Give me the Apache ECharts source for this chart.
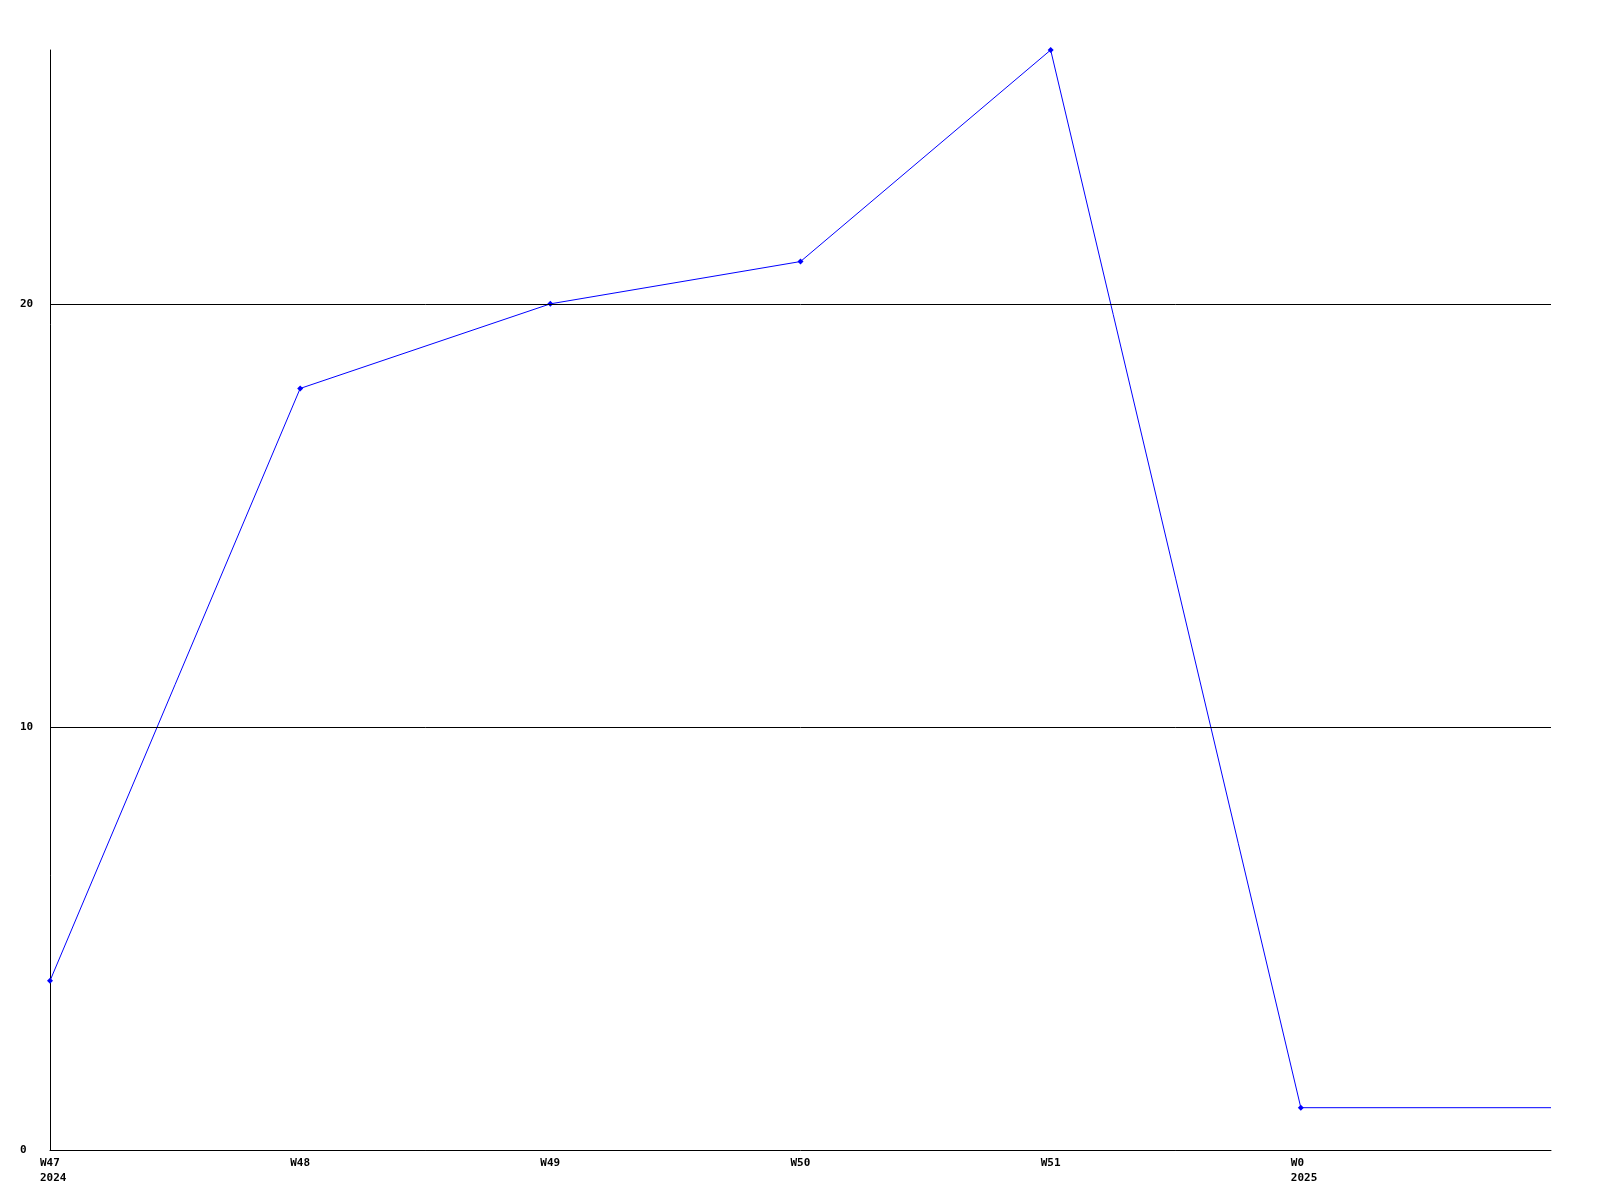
<!DOCTYPE html>
<html>
<head>
<meta charset="utf-8">
<script src="https://cdn.jsdelivr.net/npm/echarts@6/dist/echarts.min.js"></script>
<style>html,body{margin:0;padding:0;background:#fff}#c{width:1600px;height:1200px}</style>
</head>
<body>
<div id="c"></div>
<script>
var weekLabels = ['W47\n2024', 'W48', 'W49', 'W50', 'W51', 'W0\n2025'];
var weekPositions = [0, 1, 2, 3, 4, 5, 6];
var values = [4, 18, 20, 21, 26, 1, 1];
var gridValues = [10, 20];
var yLabels = [0, 10, 20];

var chart = echarts.init(document.getElementById('c'));
var data = values.map(function (v, i) {
  var item = { value: [weekPositions[i], v] };
  if (i === values.length - 1) item.symbol = 'none';
  return item;
});
var font = '"DejaVu Sans Mono", monospace';
chart.setOption({
  animation: false,
  backgroundColor: '#ffffff',
  grid: { left: 50, top: 50, width: 1501, height: 1100, containLabel: false },
  xAxis: {
    type: 'value', min: 0, max: 6, interval: 1,
    axisLine: { show: true, lineStyle: { color: '#000', width: 1 } },
    axisTick: { show: false },
    splitLine: { show: false },
    axisLabel: {
      margin: 6,
      showMaxLabel: false,
      formatter: function (v) {
        var idx = weekPositions.indexOf(v);
        if (idx < 0 || idx >= weekLabels.length) return '';
        return weekLabels[idx].split('\n').map(function (s) { return '{a|' + s + '}'; }).join('\n');
      },
      align: 'center',
      rich: {
        a: { width: 20, align: 'left', fontFamily: font, fontWeight: 'bold', fontSize: 11, color: '#000', lineHeight: 15 }
      }
    }
  },
  yAxis: {
    type: 'value', min: 0, max: 26, interval: 10,
    axisLine: { show: true, lineStyle: { color: '#000', width: 1 } },
    axisTick: { show: false },
    splitLine: { show: false },
    axisLabel: {
      align: 'left', margin: 30,
      fontFamily: font, fontWeight: 'bold', fontSize: 11, color: '#000',
      formatter: function (v) { return yLabels.indexOf(v) >= 0 ? String(v) : ''; }
    }
  },
  series: [{
    type: 'line',
    data: data,
    symbol: 'diamond',
    symbolSize: 6,
    showAllSymbol: true,
    lineStyle: { color: '#0000ff', width: 1 },
    itemStyle: { color: '#0000ff' },
    markLine: {
      silent: true,
      symbol: 'none',
      label: { show: false },
      lineStyle: { color: '#000', width: 1, type: 'solid' },
      data: gridValues.map(function (g) { return { yAxis: g }; })
    },
    z: 3
  }]
});
</script>
</body>
</html>
